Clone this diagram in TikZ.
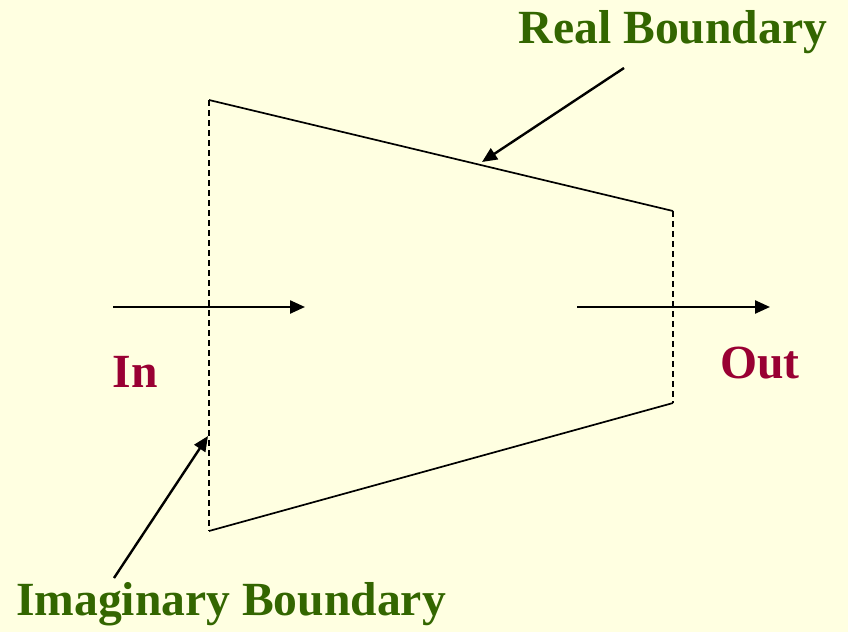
\documentclass[tikz,border=0pt]{standalone}
\usepackage{fontspec}
\setmainfont{Liberation Serif}
\usepackage{xcolor}
\usetikzlibrary{arrows.meta,positioning,calc}
\definecolor{bgyellow}{RGB}{255,255,225}
\definecolor{lblgreen}{RGB}{51,102,0}
\definecolor{lblred}{RGB}{153,0,51}

\begin{document}
\begin{tikzpicture}[
    x=1pt, y=-1pt,
    wall/.style={line width=1.7pt, line join=miter},
    open/.style={line width=1.5pt, dash pattern=on 6pt off 4pt},
    arr/.style={-{Triangle[length=15pt, width=13pt]}, line width=2.4pt},
    lbl/.style={font=\fontsize{47.6}{54}\selectfont\bfseries, anchor=base, inner sep=0pt},
  ]
  % Background
  \fill[bgyellow] (0,0) rectangle (848,632);
  \useasboundingbox (0,0) rectangle (848,632);

  % Corners of the control volume
  \coordinate (tl) at (209,100);
  \coordinate (tr) at (673,211);
  \coordinate (br) at (673,403);
  \coordinate (bl) at (209,531);

  % Real walls
  \draw[wall] (tl) -- (tr);
  \draw[wall] (bl) -- (br);
  % Imaginary walls
  \draw[open] (tl) -- (bl);
  \draw[open] (tr) -- (br);

  % Labels
  \node[lbl, text=lblgreen] (real) at (673,43) {Real Boundary};
  \node[lbl, text=lblgreen] (imag) at (231,615) {Imaginary Boundary};
  \node[lbl, text=lblred] (in) at (135,387) {In};
  \node[lbl, text=lblred] (out) at (760,378) {Out};

  % Flow arrows
  \coordinate (inA) at (113,307);
  \coordinate (inB) at (305,307);
  \coordinate (outA) at (577,307);
  \coordinate (outB) at (770,307);
  \draw[arr] (inA) -- (inB);
  \draw[arr] (outA) -- (outB);

  % Pointers
  \coordinate (realA) at (624,68);
  \coordinate (realB) at (482,162);
  \coordinate (imagA) at (114,578);
  \coordinate (imagB) at (208,436);
  \draw[arr] (realA) -- (realB);
  \draw[arr] (imagA) -- (imagB);
\end{tikzpicture}
\end{document}
